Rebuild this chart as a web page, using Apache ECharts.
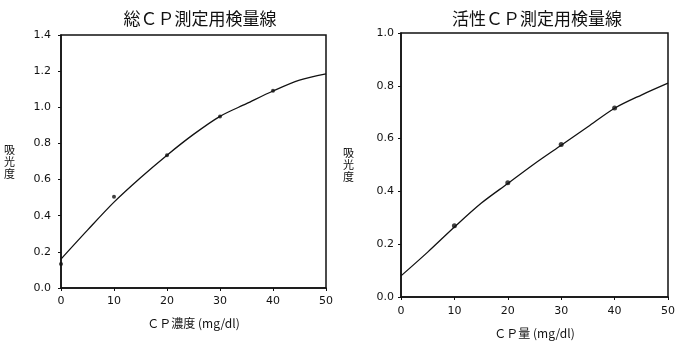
<!DOCTYPE html>
<html>
<head>
<meta charset="utf-8">
<script src="https://cdn.jsdelivr.net/npm/echarts@6/dist/echarts.min.js"></script>
<style>
html,body{margin:0;padding:0;background:#fff;}
#c{width:688px;height:341px;}
</style>
</head>
<body>
<div id="c"></div>
<script>
// Titles and labels
const titles = ['総ＣＰ測定用検量線', '活性ＣＰ測定用検量線'];
const xNames = ['ＣＰ濃度 (mg/dl)', 'ＣＰ量 (mg/dl)'];
const yName = '吸\n光\n度';

// Calibration curves (sampled along the drawn curve)
const curveX = [0, 5, 10, 15, 20, 25, 30, 35, 40, 45, 50];
const totalCurve = [0.16, 0.32, 0.475, 0.61, 0.735, 0.85, 0.95, 1.02, 1.09, 1.15, 1.185];
const activeCurve = [0.08, 0.17, 0.265, 0.355, 0.43, 0.505, 0.575, 0.645, 0.715, 0.765, 0.81];

// Measured points
const totalPtsX = [0, 10, 20, 30, 40];
const totalPtsY = [0.133, 0.505, 0.735, 0.949, 1.091];
const activePtsX = [10, 20, 30, 40];
const activePtsY = [0.27, 0.433, 0.578, 0.716];

// Axis ranges
const xMax = 50, xStep = 10;
const yMaxes = [1.4, 1.0], yStep = 0.2;

const zip = (xs, ys) => xs.map((x, i) => [x, ys[i]]);
const cjk = '"Noto Sans CJK JP", "Noto Sans", sans-serif';
const num = '"DejaVu Sans", "Noto Sans", sans-serif';

const grids = [
  {left: 61, top: 35, width: 265, height: 253},
  {left: 401, top: 33, width: 267, height: 264}
];

function xAxis(i) {
  return {
    type: 'value', gridIndex: i, min: 0, max: xMax, interval: xStep,
    name: xNames[i], nameLocation: 'middle', nameGap: i === 0 ? 29 : 30,
    nameTextStyle: {fontFamily: cjk, fontSize: 12, color: '#111'},
    axisLine: {show: true, lineStyle: {color: '#111', width: 1.5}},
    axisTick: {show: true, length: 3, lineStyle: {color: '#111'}},
    axisLabel: {fontFamily: num, fontSize: 11, color: '#111', margin: i === 0 ? 8 : 9},
    splitLine: {show: false}
  };
}
function yAxis(i) {
  return {
    type: 'value', gridIndex: i, min: 0, max: yMaxes[i], interval: yStep,
    name: yName, nameLocation: 'middle', nameRotate: 0, nameGap: i === 0 ? 46 : 47,
    nameTextStyle: {fontFamily: cjk, fontSize: 11, color: '#111', lineHeight: 12,
      padding: i === 0 ? [0, 0, 0, 0] : [0, 0, 16, 0]},
    axisLine: {show: true, lineStyle: {color: '#111', width: 1.5}},
    axisTick: {show: true, length: 3, lineStyle: {color: '#111'}},
    axisLabel: {fontFamily: num, fontSize: 11, color: '#111', margin: i === 0 ? 10 : 7,
      formatter: v => v.toFixed(1)},
    splitLine: {show: false}
  };
}

const chart = echarts.init(document.getElementById('c'), null, {renderer: 'canvas'});
chart.setOption({
  animation: false,
  backgroundColor: '#fff',
  title: [
    {text: titles[0], left: 195, top: 5, textAlign: 'center',
      textStyle: {fontFamily: cjk, fontSize: 17, fontWeight: 'normal', color: '#111'}},
    {text: titles[1], left: 532, top: 5, textAlign: 'center',
      textStyle: {fontFamily: cjk, fontSize: 17, fontWeight: 'normal', color: '#111'}}
  ],
  grid: grids.map(g => Object.assign({show: true, borderColor: '#111', borderWidth: 1.5,
    backgroundColor: 'transparent', containLabel: false, outerBoundsMode: 'none'}, g)),
  xAxis: [xAxis(0), xAxis(1)],
  yAxis: [yAxis(0), yAxis(1)],
  series: [
    {type: 'line', xAxisIndex: 0, yAxisIndex: 0, data: zip(curveX, totalCurve), smooth: 0.3,
      showSymbol: false, lineStyle: {color: '#111', width: 1.3}},
    {type: 'scatter', xAxisIndex: 0, yAxisIndex: 0, data: zip(totalPtsX, totalPtsY),
      symbolSize: 4, itemStyle: {color: '#111'}},
    {type: 'line', xAxisIndex: 1, yAxisIndex: 1, data: zip(curveX, activeCurve), smooth: 0.3,
      showSymbol: false, lineStyle: {color: '#111', width: 1.3}},
    {type: 'scatter', xAxisIndex: 1, yAxisIndex: 1, data: zip(activePtsX, activePtsY),
      symbolSize: 5, itemStyle: {color: '#111'}}
  ]
});
</script>
</body>
</html>
